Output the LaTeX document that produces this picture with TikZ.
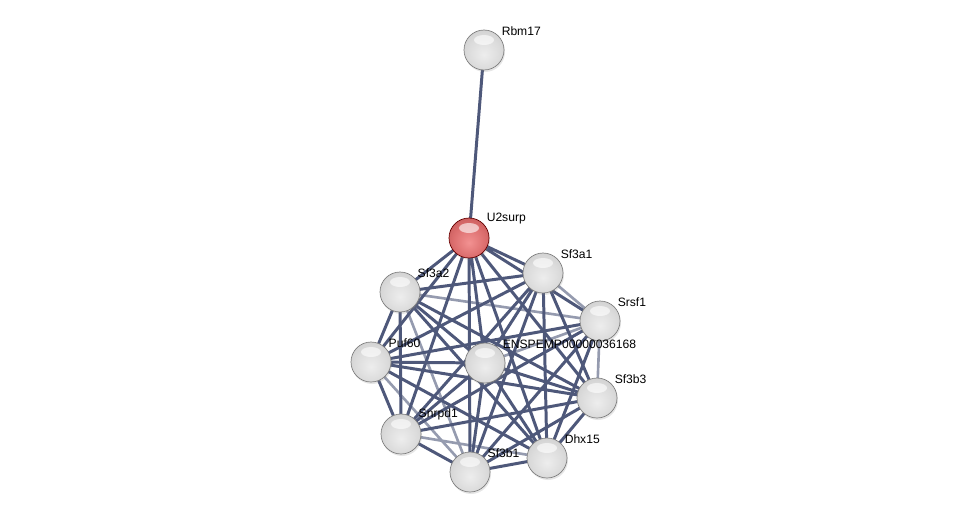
\documentclass[tikz,border=0pt]{standalone}
\usepackage{fontspec}
\setsansfont{Liberation Sans}
\usepackage{xcolor}
\usepackage{tikz}
\usetikzlibrary{shadings,shadows}

\definecolor{edgeblue}{RGB}{78,88,122}
\pgfdeclareradialshading{greyball}{\pgfpoint{0bp}{-6bp}}{%
  color(0bp)=(white!93!black); color(20bp)=(white!86!black); color(34bp)=(white!80!black);
  color(44bp)=(white!66!black); color(50bp)=(white!50!black)}
\pgfdeclareradialshading{redball}{\pgfpoint{0bp}{-6bp}}{%
  color(0bp)=(red!40!white!95!black); color(20bp)=(red!50!white!86!black); color(34bp)=(red!55!white!76!black);
  color(44bp)=(red!55!white!58!black); color(50bp)=(red!45!black)}

\begin{document}
\begin{tikzpicture}[
    protein/.style={circle, minimum size=0.8cm, inner sep=0pt, shading=greyball, draw=white!50!black, line width=0.4pt,
        drop shadow={opacity=0.2, shadow xshift=0.02cm, shadow yshift=-0.04cm},
        path picture={\fill[white, opacity=0.6] ([yshift=0.2cm]path picture bounding box.center) ellipse (0.2cm and 0.1cm);}},
    query/.style={protein, shading=redball, draw=red!40!black},
    lab/.style={font=\sffamily\fontsize{6.9}{7.5}\selectfont, text=black, inner sep=1pt, yshift=-0.07cm},
    every label/.style={lab},
    label distance=1pt,
    edge/.style={draw=edgeblue, line width=1.7pt},
    weak/.style={draw=edgeblue!60, line width=1.5pt}
]
\useasboundingbox (0,0) rectangle (19.52,-10.36);

% Protein positions
\coordinate (rbm) at (9.68,-1.00);
\coordinate (u2) at (9.38,-4.76);
\coordinate (a1) at (10.86,-5.46);
\coordinate (a2) at (8.00,-5.84);
\coordinate (srsf) at (12.00,-6.42);
\coordinate (puf) at (7.42,-7.24);
\coordinate (ensp) at (9.70,-7.26);
\coordinate (b3) at (11.94,-7.96);
\coordinate (snrpd) at (8.02,-8.68);
\coordinate (dhx) at (10.94,-9.16);
\coordinate (b1) at (9.40,-9.44);

% Interactions
\draw[weak] (a2) -- (b1) (a1) -- (srsf) (srsf) -- (b3) (puf) -- (b1) (a2) -- (srsf)
    (ensp) -- (srsf) (snrpd) -- (dhx);
\draw[edge] (rbm) -- (u2);
\draw[edge] (u2) -- (a1) (u2) -- (a2) (u2) -- (srsf) (u2) -- (puf) (u2) -- (ensp)
    (u2) -- (b3) (u2) -- (snrpd) (u2) -- (dhx) (u2) -- (b1);
\draw[edge] (a1) -- (a2) (a1) -- (puf) (a1) -- (ensp) (a1) -- (b3) (a1) -- (snrpd)
    (a1) -- (dhx) (a1) -- (b1);
\draw[edge] (a2) -- (puf) (a2) -- (ensp) (a2) -- (b3) (a2) -- (snrpd) (a2) -- (dhx);
\draw[edge] (srsf) -- (puf) (srsf) -- (snrpd) (srsf) -- (dhx) (srsf) -- (b1);
\draw[edge] (puf) -- (ensp) (puf) -- (b3) (puf) -- (snrpd) (puf) -- (dhx);
\draw[edge] (ensp) -- (b3) (ensp) -- (snrpd) (ensp) -- (dhx) (ensp) -- (b1);
\draw[edge] (b3) -- (snrpd) (b3) -- (dhx) (b3) -- (b1);
\draw[edge] (snrpd) -- (b1) (dhx) -- (b1);

% Proteins
\node[protein, label={45:Rbm17}] (rbm-n) at (rbm) {};
\node[query, label={45:U2surp}] (u2-n) at (u2) {};
\node[protein, label={45:Sf3a1}] (a1-n) at (a1) {};
\node[protein, label={45:Sf3a2}] (a2-n) at (a2) {};
\node[protein, label={45:Srsf1}] (srsf-n) at (srsf) {};
\node[protein, label={45:Puf60}] (puf-n) at (puf) {};
\node[protein, label={45:ENSPEMP00000036168}] (ensp-n) at (ensp) {};
\node[protein, label={45:Sf3b3}] (b3-n) at (b3) {};
\node[protein, label={45:Snrpd1}] (snrpd-n) at (snrpd) {};
\node[protein, label={45:Dhx15}] (dhx-n) at (dhx) {};
\node[protein, label={45:Sf3b1}] (b1-n) at (b1) {};
\end{tikzpicture}
\end{document}
